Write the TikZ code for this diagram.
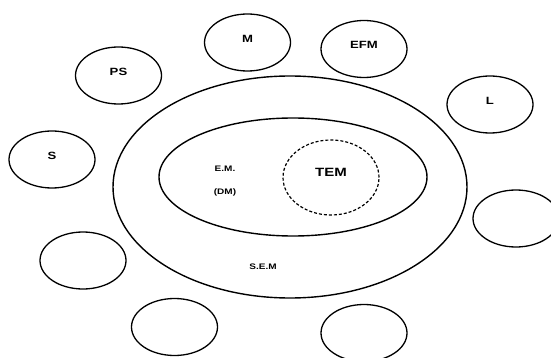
\documentclass[tikz,border=0pt]{standalone}
\usepackage{fontspec}
\setmainfont{Liberation Sans}[FakeStretch=1.25]
\usetikzlibrary{shapes.geometric}
\begin{document}
\begin{tikzpicture}[x=1pt,y=-1pt]
\tikzstyle{myoval} = [ellipse, draw, line width=1.3pt, minimum width=86pt, minimum height=57pt, inner sep=0pt, text depth=8pt, font=\bfseries\fontsize{10.5}{12}\selectfont]
\tikzstyle{myring} = [ellipse, draw, line width=1.4pt, inner sep=0pt]
\tikzstyle{mytext} = [inner sep=0pt, font=\bfseries\fontsize{8}{9}\selectfont]

\useasboundingbox (0,0) rectangle (551,358);

% the three nested rings
\node[myring, minimum width=354pt, minimum height=222pt] (sem) at (290,187) {};
\node[myring, minimum width=268pt, minimum height=118pt] (em) at (293,177) {};
\node[myring, dash pattern=on 3pt off 2pt, line width=1.2pt, minimum width=96pt, minimum height=75pt, text depth=11pt,
      font=\bfseries\fontsize{12}{14}\selectfont] (tem) at (331,177.5) {TEM};

\node[mytext] (emlabel) at (225,169) {E.M.};
\node[mytext] (dmlabel) at (225,192) {(DM)};
\node[mytext] (semlabel) at (263,267) {S.E.M};

% ovals round the outside
\node[myoval] (m) at (247.5,42.5) {M};
\node[myoval] (efm) at (364,49) {EFM};
\node[myoval] (ps) at (118.5,75.5) {PS};
\node[myoval] (l) at (490,104.5) {L};
\node[myoval] (s) at (52,159.5) {S};
\node[myoval] (right) at (516,218.5) {};
\node[myoval] (leftlow) at (83,260.5) {};
\node[myoval] (botleft) at (174.5,327) {};
\node[myoval] (botright) at (364,333) {};
\end{tikzpicture}
\end{document}
